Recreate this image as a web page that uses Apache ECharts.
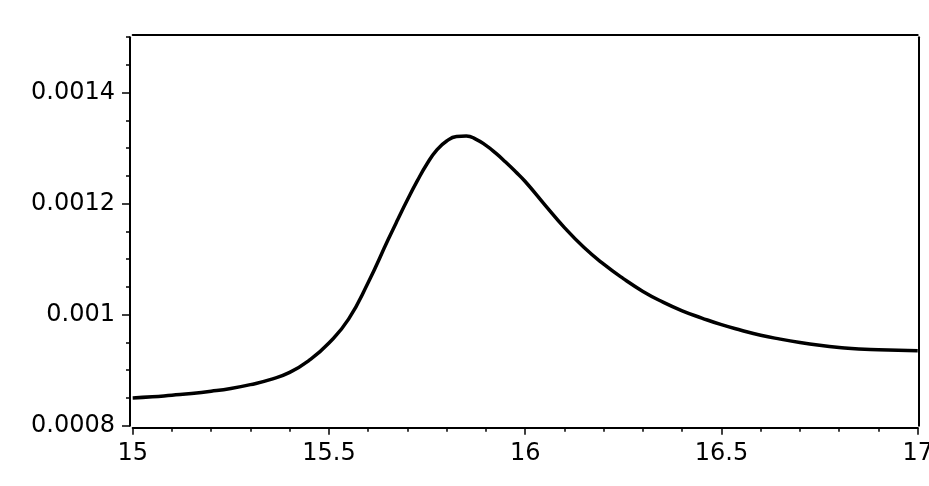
<!DOCTYPE html>
<html>
<head>
<meta charset="utf-8">
<script src="https://cdn.jsdelivr.net/npm/echarts@6/dist/echarts.min.js"></script>
<style>
  html, body { margin: 0; padding: 0; background: #fff; }
  #chart { width: 929px; height: 486px; }
</style>
</head>
<body>
<div id="chart"></div>
<script>
// curve samples (finer around the peak)
const xValues = [15, 15.05, 15.1, 15.15, 15.2, 15.25, 15.3, 15.35, 15.4, 15.45, 15.5, 15.55, 15.6, 15.65, 15.675, 15.7, 15.725, 15.75, 15.775, 15.8, 15.825, 15.85, 15.875, 15.9, 15.925, 15.95, 15.975, 16, 16.05, 16.1, 16.15, 16.2, 16.25, 16.3, 16.35, 16.4, 16.45, 16.5, 16.55, 16.6, 16.65, 16.7, 16.75, 16.8, 16.85, 16.9, 16.95, 17]
const yValues = [0.000850, 0.000852, 0.000855, 0.000858, 0.000862, 0.000867, 0.000874, 0.000883, 0.000896, 0.000918, 0.000949, 0.000992, 0.001058, 0.001134, 0.001171, 0.001207, 0.001241, 0.001272, 0.001297, 0.001313, 0.001321, 0.001322, 0.001316, 0.001305, 0.001291, 0.001275, 0.001258, 0.001240, 0.001198, 0.001157, 0.001121, 0.001091, 0.001065, 0.001042, 0.001023, 0.001007, 0.000994, 0.000982, 0.000972, 0.000963, 0.000956, 0.000950, 0.000945, 0.000941, 0.000938, 0.000937, 0.000936, 0.000935]
// tick labels
const xTicks = [15, 15.5, 16, 16.5, 17]
const yTicks = [0.0008, 0.001, 0.0012, 0.0014]
const yMax = 0.0015

const chart = echarts.init(document.getElementById('chart'))
const font = 'DejaVu Sans'
const frameLine = { show: true, lineStyle: { color: '#000', width: 2 } }
const hidden = { show: false }

const option = {
    animation: false,
    backgroundColor: '#fff',
    grid: [
        // plot area (curve + minor ticks)
        { left: 132.7, right: 11.3, top: 37.2, bottom: 60.3, outerBoundsMode: 'none', containLabel: false },
        // major y ticks + labels, top edge at 0.0014
        { left: 132.7, right: 11.3, top: 92.7, bottom: 60.3, outerBoundsMode: 'none', containLabel: false }
    ],
    xAxis: [
        {
            type: 'value', gridIndex: 0, position: 'bottom', offset: 2,
            min: xTicks[0], max: xTicks[xTicks.length - 1], interval: 0.5,
            axisLine: frameLine,
            axisTick: { show: true, length: 7, lineStyle: { color: '#000', width: 1.5 } },
            minorTick: { show: true, splitNumber: 5, length: 4, lineStyle: { color: '#000', width: 1.5 } },
            axisLabel: { color: '#000', fontFamily: font, fontSize: 24, margin: 14, hideOverlap: false },
            splitLine: hidden
        },
        {
            type: 'value', gridIndex: 0, position: 'top', offset: 2.2,
            min: xTicks[0], max: xTicks[xTicks.length - 1],
            axisLine: frameLine, axisTick: hidden, axisLabel: hidden, splitLine: hidden
        },
        {
            type: 'value', gridIndex: 1, show: false,
            min: xTicks[0], max: xTicks[xTicks.length - 1]
        }
    ],
    yAxis: [
        {
            type: 'value', gridIndex: 0, position: 'left', offset: 2.7,
            min: yTicks[0], max: yMax, interval: 0.00005,
            axisLine: frameLine,
            axisTick: { show: true, length: 4, lineStyle: { color: '#000', width: 1.5 } },
            axisLabel: hidden, splitLine: hidden
        },
        {
            type: 'value', gridIndex: 0, position: 'right', offset: 0.6,
            min: yTicks[0], max: yMax,
            axisLine: frameLine, axisTick: hidden, axisLabel: hidden, splitLine: hidden
        },
        {
            type: 'value', gridIndex: 1, position: 'left', offset: 2.7,
            min: yTicks[0], max: yTicks[yTicks.length - 1], interval: 0.0002,
            axisLine: hidden,
            axisTick: { show: true, length: 8, lineStyle: { color: '#000', width: 1.5 } },
            axisLabel: {
                color: '#000', fontFamily: font, fontSize: 24, margin: 15,
                formatter: (v) => String(+v.toFixed(4))
            },
            splitLine: hidden
        }
    ],
    series: [
        {
            type: 'line',
            xAxisIndex: 0,
            yAxisIndex: 0,
            data: xValues.map((x, i) => [x, yValues[i]]),
            showSymbol: false,
            smooth: 0.5,
            lineStyle: { color: '#000', width: 3.5 }
        }
    ]
}
chart.setOption(option)
</script>
</body>
</html>
